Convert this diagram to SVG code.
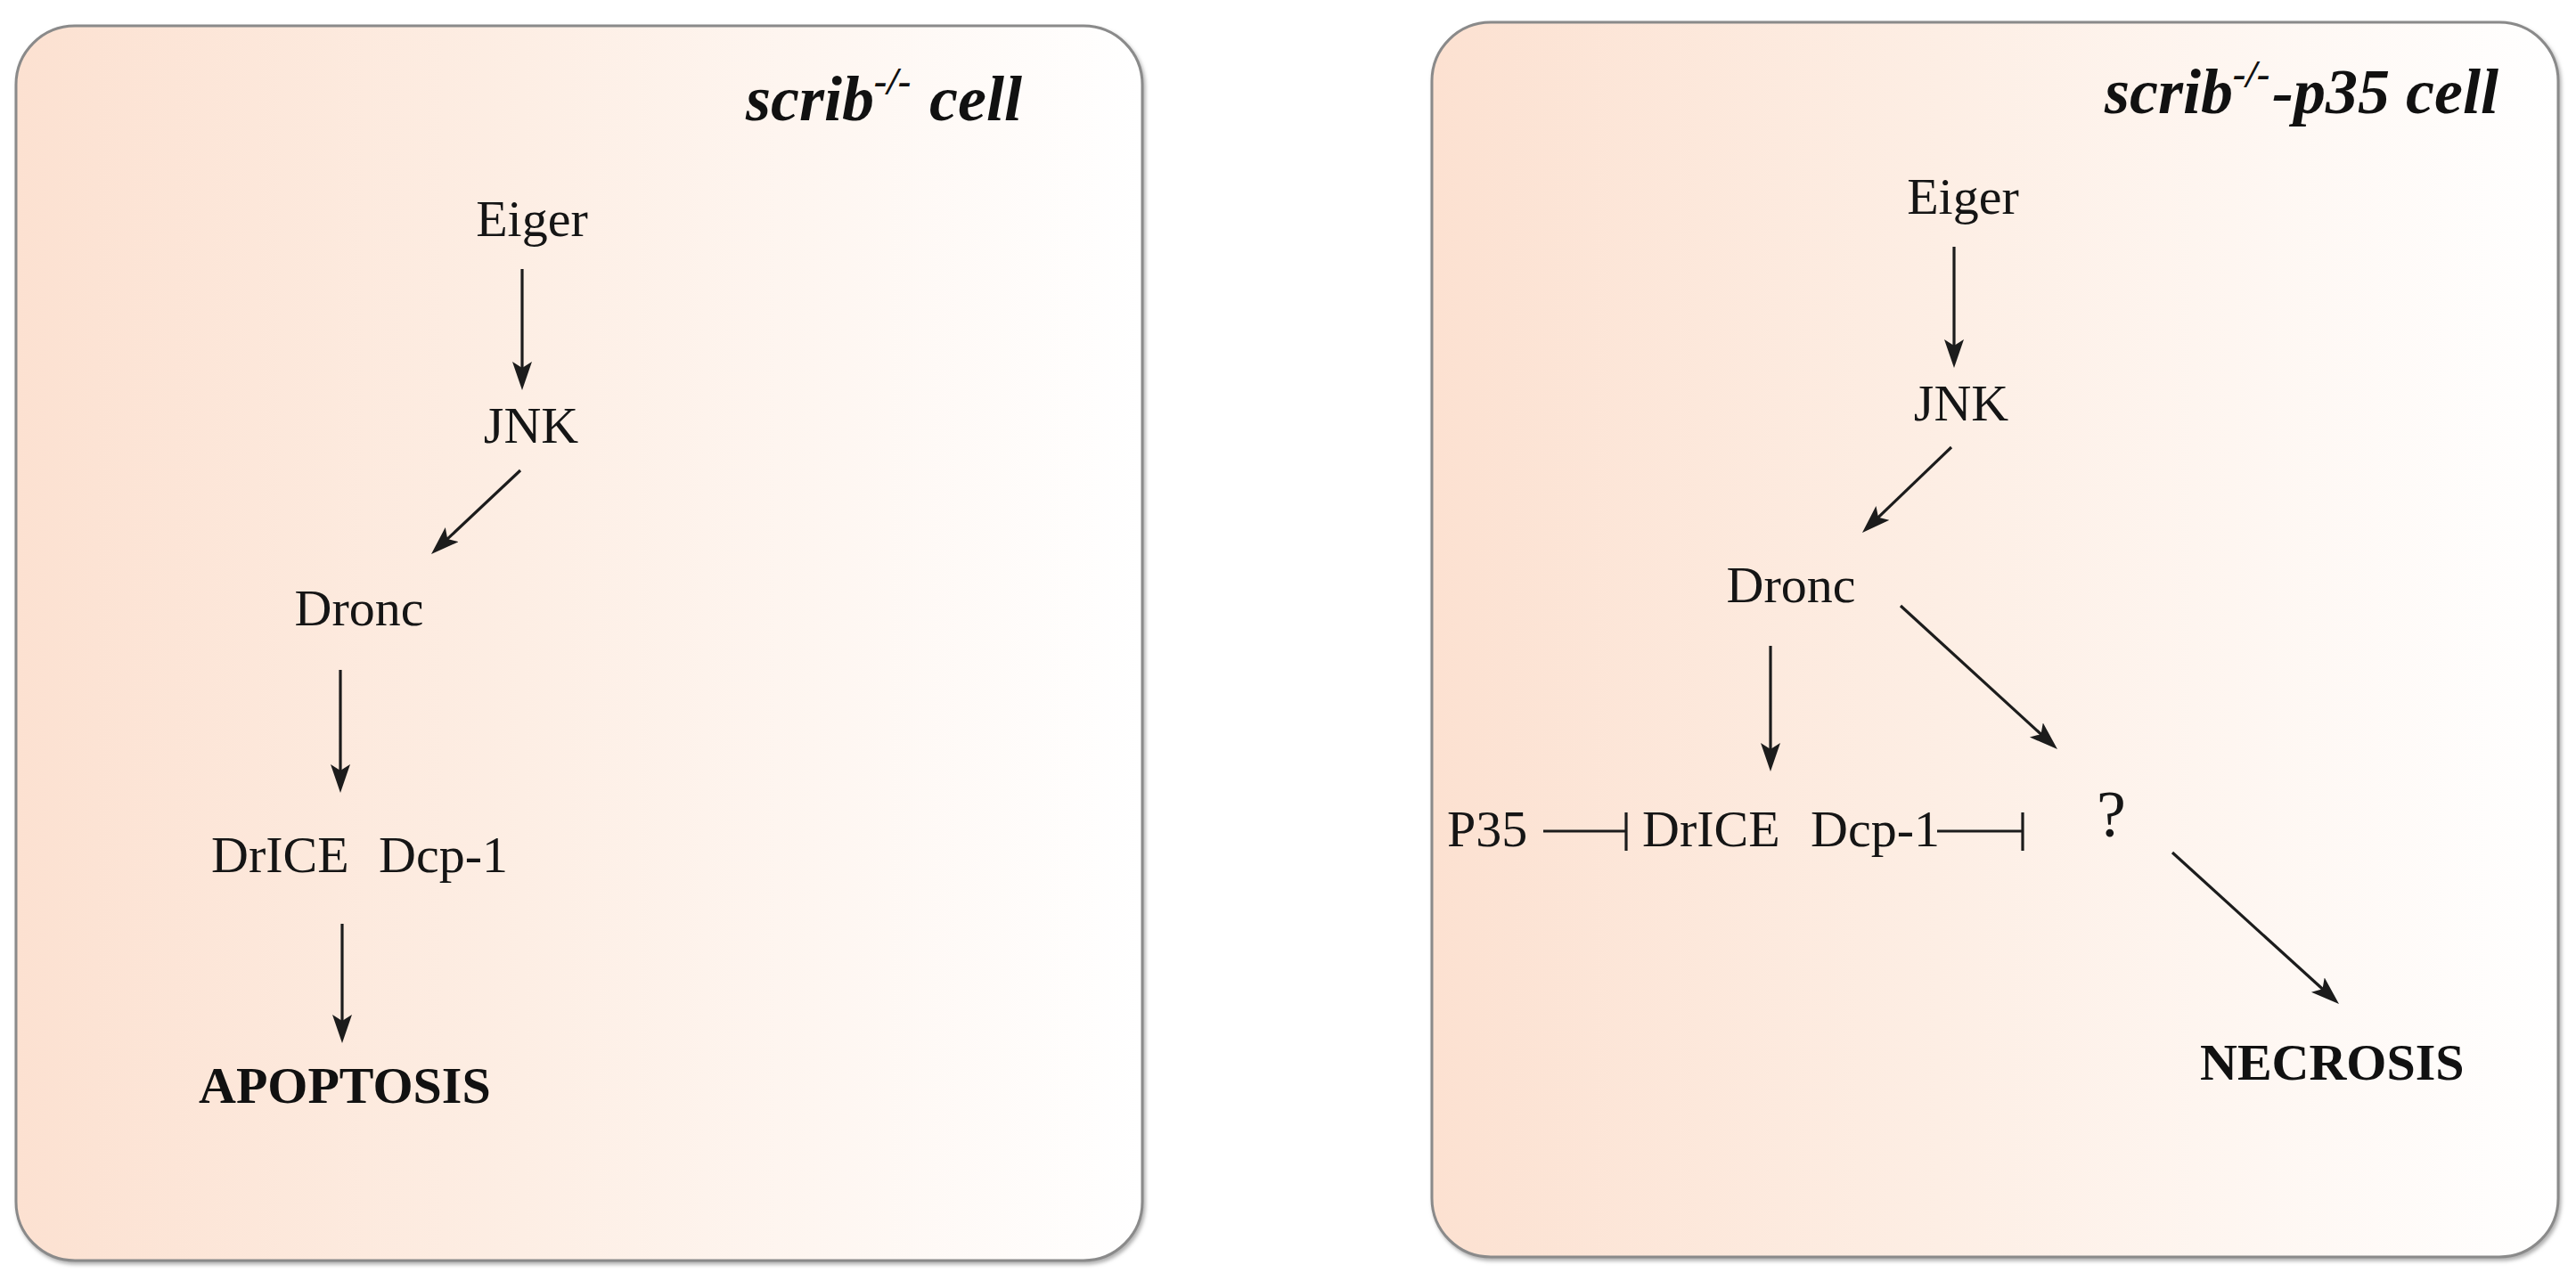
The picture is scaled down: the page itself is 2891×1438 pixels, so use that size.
<svg xmlns="http://www.w3.org/2000/svg" width="2891" height="1438" viewBox="0 0 2891 1438">
  <style>
    .node { font-family: "Liberation Serif", "Times New Roman", serif; font-size: 58px; fill: #151515; }
    .out { font-family: "Liberation Serif", "Times New Roman", serif; font-size: 58px; font-weight: bold; fill: #111; }
    .title { font-family: "Liberation Serif", "Times New Roman", serif; font-size: 72px; font-weight: bold; font-style: italic; fill: #111; }
    .sup { font-size: 44px; }
    .panel { fill: url(#bg); stroke: #8a8a8a; stroke-width: 3; filter: url(#shadow); }
    .arrow { stroke: #1c1c1c; stroke-width: 3.2; fill: none; marker-end: url(#head); }
    .inhib { stroke: #1c1c1c; stroke-width: 3.2; fill: none; }
  </style>
  <defs>
    <linearGradient id="bg" x1="0" y1="0" x2="1" y2="0">
      <stop offset="0" stop-color="#FCE1D1"/>
      <stop offset="0.45" stop-color="#FDEEE4"/>
      <stop offset="1" stop-color="#FFFFFF"/>
    </linearGradient>
    <filter id="shadow" x="-5%" y="-5%" width="110%" height="110%">
      <feDropShadow dx="2" dy="3" stdDeviation="2" flood-color="#9a9a9a" flood-opacity="0.8"/>
    </filter>
    <marker id="head" markerUnits="userSpaceOnUse" markerWidth="34" markerHeight="24" refX="22" refY="11" orient="auto">
      <path d="M0,0 L32,11 L0,22 L7,11 Z" fill="#1c1c1c"/>
    </marker>
  </defs>

  <rect x="0" y="0" width="2891" height="1438" fill="#FFFFFF"/>

  <g id="panel-left">
    <rect class="panel" x="18" y="29" width="1264" height="1386" rx="66" ry="66"/>
    <text class="title" x="837" y="135">scrib<tspan class="sup" dy="-29">-/-</tspan><tspan x="1043" dy="29">cell</tspan></text>
  </g>
  <g id="panel-right">
    <rect class="panel" x="1607" y="25" width="1264" height="1386" rx="66" ry="66"/>
    <text class="title" x="2362" y="127">scrib<tspan class="sup" dy="-29">-/-</tspan><tspan x="2550" dy="29">-p35 cell</tspan></text>
  </g>

  <g id="left-eiger"><text class="node" x="597" y="265" text-anchor="middle">Eiger</text></g>
  <g id="left-jnk"><text class="node" x="596" y="497" text-anchor="middle">JNK</text></g>
  <g id="left-dronc"><text class="node" x="403" y="702" text-anchor="middle">Dronc</text></g>
  <g id="left-drice"><text class="node" x="237" y="979">DrICE</text></g>
  <g id="left-dcp1"><text class="node" x="425" y="979">Dcp-1</text></g>
  <g id="left-apoptosis"><text class="out" x="223" y="1238">APOPTOSIS</text></g>

  <g id="right-eiger"><text class="node" x="2203" y="240" text-anchor="middle">Eiger</text></g>
  <g id="right-jnk"><text class="node" x="2201" y="472" text-anchor="middle">JNK</text></g>
  <g id="right-dronc"><text class="node" x="2010" y="676" text-anchor="middle">Dronc</text></g>
  <g id="right-p35"><text class="node" x="1624" y="950">P35</text></g>
  <g id="right-drice"><text class="node" x="1843" y="950">DrICE</text></g>
  <g id="right-dcp1"><text class="node" x="2032" y="950">Dcp-1</text></g>
  <g id="right-unknown"><text class="node" x="2353" y="939" style="font-size:74px">?</text></g>
  <g id="right-necrosis"><text class="out" x="2469" y="1212">NECROSIS</text></g>

  <g id="connectors">
    <line class="arrow" x1="586" y1="302" x2="586" y2="428"/>
    <line class="arrow" x1="584" y1="528" x2="491.3" y2="615.2"/>
    <line class="arrow" x1="382" y1="752" x2="382" y2="880"/>
    <line class="arrow" x1="384" y1="1037" x2="384" y2="1161"/>

    <line class="arrow" x1="2193" y1="277" x2="2193" y2="403"/>
    <line class="arrow" x1="2190" y1="502" x2="2097.2" y2="591.1"/>
    <line class="arrow" x1="1987" y1="725" x2="1987" y2="856"/>
    <line class="arrow" x1="2133" y1="680" x2="2301.6" y2="834.3"/>
    <line class="arrow" x1="2438" y1="957" x2="2617.6" y2="1120.3"/>

    <path class="inhib" d="M1732,933 H1825 M1825,912 V955"/>
    <path class="inhib" d="M2174,933 H2270 M2270,912 V955"/>
  </g>
</svg>
